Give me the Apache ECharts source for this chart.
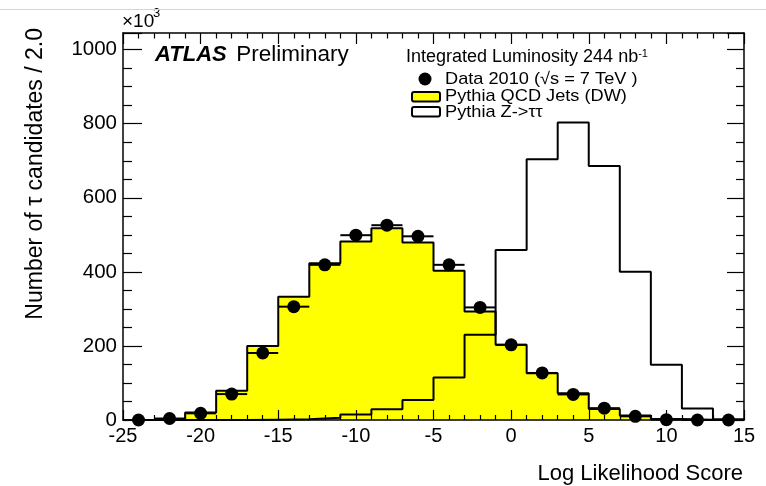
<!DOCTYPE html>
<html><head><meta charset="utf-8">
<script src="https://cdn.jsdelivr.net/npm/echarts@6/dist/echarts.min.js"></script>
<style>html,body{margin:0;padding:0;background:#fff}#c{width:766px;height:486px}</style>
</head><body><div id="c"></div>
<script>
// ---- data (values in units of 10^3) ----
const binCenters = [-24,-22,-20,-18,-16,-14,-12,-10,-8,-6,-4,-2,0,2,4,6,8,10,12,14];
const binHalfWidth = 1;
const dataValues = [0,4,18,70,181,306,419,499,526,496,419,304,203,127,69,32,10,1,0,0];
const qcdValues = [1,3,20,79,200,333,423,482,518,479,403,293,203,126,72,30,12,3,1,0];
const ztautauValues = [0,0,0,0,1,2,6,15,29,54,115,230,459,704,803,686,400,149,31,2];
const xAxisRange = {min:-25, max:15, interval:5};
const yAxisRange = {min:0, max:1045, interval:200};
const seriesNames = ['Data 2010 (\u221As = 7 TeV )', 'Pythia QCD Jets (DW)', 'Pythia Z->\u03c4\u03c4'];

const FONT = '"Liberation Sans", Arial, Helvetica, sans-serif';

function stepData(values){
  const pts = [[binCenters[0]-binHalfWidth, 0]];
  for (let i=0;i<values.length;i++) pts.push([binCenters[i]-binHalfWidth, values[i]]);
  const last = binCenters.length-1;
  pts.push([binCenters[last]+binHalfWidth, values[last]]);
  pts.push([binCenters[last]+binHalfWidth, 0]);
  return pts;
}
const points = binCenters.map((c,i)=>[c, dataValues[i]]);

const axisLineStyle = {color:'#000', width:1.5};
const tickStyle = {color:'#000', width:1.2};

function xAxisDef(pos, showLabel, major, minor){
  return {
    type:'value', position:pos, min:xAxisRange.min, max:xAxisRange.max, interval:xAxisRange.interval,
    z:10,
    axisLine:{show:true, onZero:false, lineStyle:axisLineStyle},
    axisTick:{show:true, inside:true, length:major, lineStyle:tickStyle},
    minorTick:{show:true, splitNumber:5, length:minor, lineStyle:tickStyle},
    splitLine:{show:false},
    axisLabel:{show:showLabel, color:'#000', fontSize:20, fontFamily:FONT, margin:6}
  };
}
function yAxisDef(pos, showLabel, major, minor){
  return {
    type:'value', position:pos, min:yAxisRange.min, max:yAxisRange.max, interval:yAxisRange.interval,
    z:10,
    axisLine:{show:true, onZero:false, lineStyle:axisLineStyle},
    axisTick:{show:true, inside:true, length:major, lineStyle:tickStyle},
    minorTick:{show:true, splitNumber:4, length:minor, lineStyle:tickStyle},
    splitLine:{show:false},
    axisLabel:{show:showLabel, color:'#000', fontSize:20.5, fontFamily:FONT, margin:6,
      formatter:v => (v % yAxisRange.interval === 0 ? String(v) : '')}
  };
}

const legendText = (x, y, t) => ({type:'text', x:x, y:y, scaleX:1.07,
  style:{text:t, fontSize:17, fontFamily:FONT, fill:'#000', align:'left', verticalAlign:'middle'}});

const chart = echarts.init(document.getElementById('c'), null, {renderer:'canvas'});
chart.setOption({
  backgroundColor:'#fff',
  animation:false,
  grid:{left:123, right:22, top:33, bottom:66},
  xAxis:[xAxisDef('bottom', true, 10, 5), xAxisDef('top', false, 11, 5.5)],
  yAxis:[yAxisDef('left', true, 19, 9), yAxisDef('right', false, 17, 8)],
  series:[
    {name:seriesNames[1], type:'line', step:'end', data:stepData(qcdValues), symbol:'none',
     xAxisIndex:0, yAxisIndex:0, z:2,
     lineStyle:{color:'#000', width:2}, areaStyle:{color:'#ffff00', opacity:1}},
    {name:seriesNames[2], type:'line', step:'end', data:stepData(ztautauValues), symbol:'none',
     xAxisIndex:0, yAxisIndex:0, z:3,
     lineStyle:{color:'#000', width:2}},
    {name:'errx', type:'custom', data:points, xAxisIndex:0, yAxisIndex:0, z:4,
     encode:{x:0, y:1},
     renderItem:(params, api)=>{
       const x = api.value(0), y = api.value(1);
       const p1 = api.coord([x-binHalfWidth, y]), p2 = api.coord([x+binHalfWidth, y]);
       return {type:'line', shape:{x1:p1[0], y1:p1[1], x2:p2[0], y2:p2[1]},
               style:{stroke:'#000', lineWidth:2}};
     }},
    {name:seriesNames[0], type:'scatter', data:points, symbol:'circle', symbolSize:13,
     xAxisIndex:0, yAxisIndex:0, z:5, clip:false,
     itemStyle:{color:'#000', opacity:1}}
  ],
  graphic:[
    {type:'line', shape:{x1:0, y1:9.5, x2:766, y2:9.5}, style:{stroke:'#d4d4d4', lineWidth:1}, z:100},
    {type:'text', x:122, y:22, style:{text:'\u00d710', fontSize:19, fontFamily:FONT, fill:'#000', align:'left', verticalAlign:'middle'}},
    {type:'text', x:153, y:13, style:{text:'3', fontSize:13, fontFamily:FONT, fill:'#000', align:'left', verticalAlign:'middle'}},
    {type:'text', x:155, y:55, style:{
      text:'{a|ATLAS} {b| Preliminary}', fill:'#000', align:'left', verticalAlign:'middle',
      rich:{a:{fontSize:22, fontFamily:FONT, fontWeight:'bold', fontStyle:'italic', fill:'#000'},
            b:{fontSize:22.5, fontFamily:FONT, fill:'#000'}}}},
    {type:'text', x:406, y:57, style:{
      text:'{m|Integrated Luminosity 244 nb}{s|-1}', fill:'#000', align:'left', verticalAlign:'middle',
      rich:{m:{fontSize:18, fontFamily:FONT, fill:'#000'},
            s:{fontSize:11, fontFamily:FONT, fill:'#000', verticalAlign:'top'}}}},
    {type:'circle', shape:{cx:425, cy:79, r:6.5}, style:{fill:'#000'}},
    legendText(445, 79, seriesNames[0]),
    {type:'rect', shape:{x:412, y:92, width:28, height:9.5, r:2}, style:{fill:'#ffff00', stroke:'#000', lineWidth:2}},
    legendText(445, 96, seriesNames[1]),
    {type:'rect', shape:{x:412, y:107, width:28, height:9.5, r:2}, style:{fill:'#fff', stroke:'#000', lineWidth:2}},
    legendText(445, 112.5, seriesNames[2]),
    {type:'text', x:743, y:474, style:{text:'Log Likelihood Score', fontSize:22, fontFamily:FONT, fill:'#000', align:'right', verticalAlign:'middle'}},
    {type:'text', x:36, y:28, rotation:Math.PI/2, style:{text:'Number of \u03c4 candidates / 2.0', fontSize:23, fontFamily:FONT, fill:'#000', align:'right', verticalAlign:'middle'}}
  ]
});
</script>
</body></html>
